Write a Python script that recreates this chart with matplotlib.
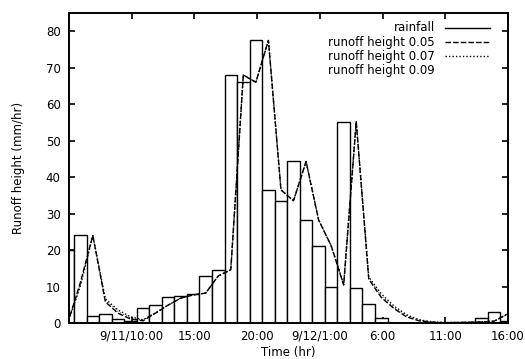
#!/usr/bin/env python

import matplotlib
matplotlib.use("Agg")
import matplotlib.pyplot as plt

# hourly rainfall bars, left edge in hours from 9/11 0:00
rain_start = [4.4 + i for i in range(36)]
rainfall = [20, 24, 2, 2.5, 1, 0.5, 4, 5, 7, 7.4, 8, 12.9, 14.5, 68, 66, 77.5,
            36.5, 33.5, 44.3, 28.3, 21, 10, 55.2, 9.5, 5.3, 1.3, 0, 0, 0, 0,
            0, 0.3, 0.3, 1.3, 3.1, 0.5]

# runoff heights, sampled at the middle of each hour
runoff_time = [4.9 + i for i in range(36)]
runoff_005 = [0, 11, 24, 5.8, 2.7, 1.1, 0.6, 2.7, 4.9, 6.8, 7.7, 8.2, 12.9, 14.6,
              68, 66, 77.5, 36.5, 33.5, 44.3, 28.3, 21.2, 10.4, 55.2, 12, 7, 4,
              1.7, 0.6, 0.2, 0.1, 0.1, 0.2, 0.3, 0.5, 2.4]
runoff_007 = [0, 10, 24, 6.6, 3.6, 1.7, 0.9, 2.8, 4.9, 6.8, 7.7, 8.2, 12.9, 14.6,
              68, 66, 77.5, 36.5, 33.5, 44.3, 28.3, 21.2, 10.6, 55.2, 12.6, 8,
              4.7, 2.3, 0.9, 0.35, 0.15, 0.1, 0.2, 0.3, 0.5, 2.3]
runoff_009 = [0, 10.5, 24, 6.2, 3.2, 1.4, 0.8, 2.7, 4.9, 6.8, 7.7, 8.2, 12.9, 14.6,
              68, 66, 77.5, 36.5, 33.5, 44.3, 28.3, 21.2, 10.5, 55.2, 12.3, 7.5,
              4.3, 2.0, 0.8, 0.3, 0.1, 0.1, 0.2, 0.3, 0.5, 2.3]

tick_hours = [10, 15, 20, 25, 30, 35, 40]
tick_labels = ["9/11/10:00", "15:00", "20:00", "9/12/1:00", "6:00", "11:00", "16:00"]

plt.rcParams['font.family'] = ['DejaVu Sans']
plt.rcParams['font.size'] = 8.5

fig = plt.figure(figsize=[5.25, 3.59], dpi=100)
ax = fig.add_axes([0.1314, 0.1003, 0.8362, 0.8635])

ax.bar(rain_start, rainfall, width=1, align='edge', facecolor='white',
       edgecolor='black', linewidth=1.0, zorder=2)
ax.plot(runoff_time, runoff_009, color='black', linewidth=0.6, linestyle=(0, (1, 3)), zorder=3)
ax.plot(runoff_time, runoff_007, color='black', linewidth=1.0, linestyle=(0, (1, 1.5)), zorder=3)
ax.plot(runoff_time, runoff_005, color='black', linewidth=1.0, linestyle=(0, (4, 1.5)), zorder=3)

ax.set_xlim(5, 40)
ax.set_ylim(0, 85)
ax.set_xticks(tick_hours)
ax.set_xticklabels(tick_labels)
ax.set_yticks(range(0, 81, 10))
ax.tick_params(direction='in', length=4, width=1.2, top=True, right=True)
ax.tick_params(axis='x', pad=5)
ax.tick_params(axis='y', pad=6)
for s in ax.spines.values():
    s.set_linewidth(1.4)

ax.set_xlabel('Time (hr)')
ax.set_ylabel('Runoff height (mm/hr)')
ax.xaxis.set_label_coords(0.5, -0.075)
ax.yaxis.set_label_coords(-0.1, 0.5)

# key, right aligned text like the original
key_names = ["rainfall", "runoff height 0.05", "runoff height 0.07", "runoff height 0.09"]
key_styles = ['-', (0, (4, 1.5)), (0, (1, 1.5)), 'none']
key_y = [0.952, 0.906, 0.861, 0.816]
for name, style, y in zip(key_names, key_styles, key_y):
    ax.text(0.834, y, name, ha='right', va='center', transform=ax.transAxes)
    if style != 'none':
        ax.plot([0.856, 0.959], [y, y], color='black', linewidth=1.0,
                linestyle=style, transform=ax.transAxes)

plt.savefig('out.png', dpi=100)
plt.close()
